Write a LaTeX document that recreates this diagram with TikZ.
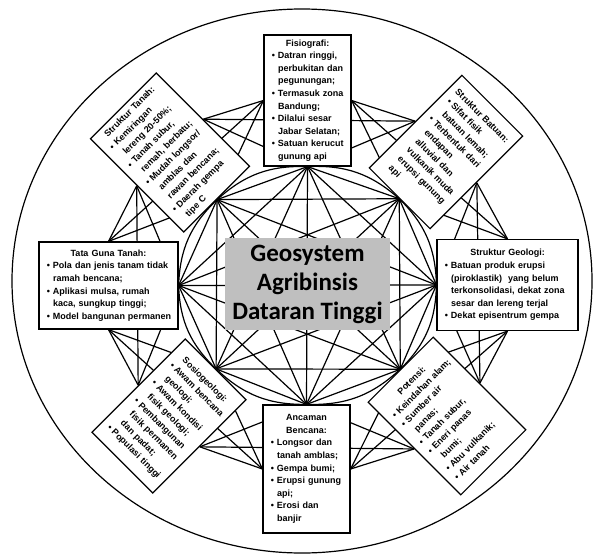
\documentclass[tikz,border=0pt]{standalone}
\usepackage{fontspec}
\setmainfont{Liberation Sans}
\newfontfamily\corefont{Carlito}
\usetikzlibrary{positioning}
\pgfdeclarelayer{bg}
\pgfsetlayers{bg,main}

\definecolor{coregray}{RGB}{191,191,191}
\newcommand{\hd}[1]{\makebox[\linewidth][c]{#1}}
\newcommand{\bu}{\makebox[9pt][c]{\textbullet}}
\newcommand{\ct}{\hspace*{9pt}}

\tikzset{
  infobox/.style={draw, line width=1.2pt, fill=white, inner xsep=5pt, inner ysep=2pt,
    font=\fontsize{9}{12.6}\selectfont\bfseries, align=left},
  corebox/.style={fill=coregray, minimum width=165pt, minimum height=92pt,
    font=\corefont\fontsize{25}{29}\selectfont\bfseries, align=center},
  link/.style={line width=1.2pt, line join=round},
}

\begin{document}
\begin{tikzpicture}[x=1pt, y=-1pt]
    \useasboundingbox (0,0) rectangle (593,554);

    \node[infobox, text width=77pt, minimum height=131pt] (fis) at (307.5,100.5)
      {\hd{Fisiografi:}\\ \bu Datran ringgi,\\ \ct perbukitan dan\\ \ct pegunungan;\\
       \bu Termasuk zona\\ \ct Bandung;\\ \bu Dilalui sesar\\ \ct Jabar Selatan;\\
       \bu Satuan kerucut\\ \ct gunung api};
    \node[infobox, text width=83pt, minimum height=132pt, rotate=45] (tanah) at (170,152.5)
      {\hd{Struktur Tanah:}\\ \bu Kemiringan\\ \ct lereng 20-50\%;\\ \bu Tanah subur,\\
       \ct remah, berbatu;\\ \bu Mudah longsor/\\ \ct amblas dan\\ \ct rawan bencana;\\
       \bu Daerah gempa\\ \ct tipe C};
    \node[infobox, text width=76pt, minimum height=131pt, rotate=-45] (batuan) at (446,152)
      {\hd{Struktur Batuan:}\\ \bu Sifat fisik\\ \ct batuan lemah;\\ \bu Terbentuk dari\\
       \ct endapan\\ \ct alluvial dan\\ \ct vulkanik muda\\ \ct erupsi gunung\\ \ct api};
    \node[infobox, text width=129pt, minimum height=87pt] (tata) at (108.5,285.5)
      {\hd{Tata Guna Tanah:}\\ \bu Pola dan jenis tanam tidak\\ \ct ramah bencana;\\
       \bu Aplikasi mulsa, rumah\\ \ct kaca, sungkup tinggi;\\ \bu Model bangunan permanen};
    \node[infobox, text width=131pt, minimum height=91pt] (geo) at (507.5,285)
      {\hd{Struktur Geologi:}\\ \bu Batuan produk erupsi\\ \ct (piroklastik)\ \ yang belum\\
       \ct terkonsolidasi, dekat zona\\ \ct sesar dan lereng terjal\\ \bu Dekat episentrum gempa};
    \node[infobox, text width=76pt, minimum height=132pt, rotate=-45] (sosio) at (169,416)
      {\hd{Sosiogeologi:}\\ \bu Awam bencana\\ \ct geologi;\\ \bu Awam kondisi\\
       \ct fisik geologi;\\ \bu Pembangunan\\ \ct fisik permanen\\ \ct dan padat;\\
       \bu Populasi tinggi};
    \node[infobox, text width=82pt, minimum height=131pt, rotate=45] (potensi) at (447,416)
      {\hd{Potensi:}\\ \bu Keindahan alam;\\ \bu Sumber air\\ \ct panas;\\ \bu Tanah subur,\\
       \bu Eneri panas\\ \ct bumi;\\ \bu Abu vulkanik;\\ \bu Air tanah};
    \node[infobox, text width=77pt, minimum height=128pt] (ancaman) at (306.5,469)
      {\hd{Ancaman}\\ \hd{Bencana:}\\ \bu Longsor dan\\ \ct tanah amblas;\\ \bu Gempa bumi;\\
       \bu Erupsi gunung\\ \ct api;\\ \bu Erosi dan\\ \ct banjir};
    \node[corebox] (core) at (307.5,284) {Geosystem\\Agribinsis\\Dataran Tinggi};

    % inner ring, clockwise from the top
    \coordinate (in1) at (fis.south);
    \coordinate (in2) at (batuan.south);
    \coordinate (in3) at (geo.west);
    \coordinate (in4) at (potensi.north);
    \coordinate (in5) at (ancaman.north);
    \coordinate (in6) at (sosio.north);
    \coordinate (in7) at (tata.east);
    \coordinate (in8) at (tanah.south);

    \begin{pgfonlayer}{bg}
      \draw[link] (302,281) ellipse [x radius=290pt, y radius=272pt];

      % star inside
      \foreach \i in {1,...,7}{
        \pgfmathtruncatemacro\j{\i+1}
        \foreach \k in {\j,...,8}
          \draw[link] (in\i) -- (in\k);
      }
      \foreach \i in {1,...,8}{
        \pgfmathtruncatemacro\j{mod(\i,8)+1}
        \draw[link] (in\i) to[bend left=22] (in\j);
      }

      % neighbours
      \draw[link] (fis.west) -- (tanah.east) (fis.west) -- (tanah.south) (tanah.east) -- (fis.south);
      \draw[link] (tanah.west) -- (tata.north) (tanah.west) -- (tata.east) (tata.north) -- (tanah.south);
      \draw[link] (tata.south) -- (sosio.west) (tata.south) -- (sosio.north) (sosio.west) -- (tata.east);
      \draw[link] (sosio.east) -- (ancaman.west) (sosio.east) -- (ancaman.north) (ancaman.west) -- (sosio.north);
      \draw[link] (ancaman.east) -- (potensi.west) (ancaman.east) -- (potensi.north) (potensi.west) -- (ancaman.north);
      \draw[link] (potensi.east) -- (geo.south) (potensi.east) -- (geo.west) (geo.south) -- (potensi.north);
      \draw[link] (geo.north) -- (batuan.east) (geo.north) -- (batuan.south) (batuan.east) -- (geo.west);
      \draw[link] (batuan.west) -- (fis.east) (batuan.west) -- (fis.south) (fis.east) -- (batuan.south);

      % across each box
      \draw[link] (tanah.east) -- (batuan.west);
      \draw[link] (fis.west) -- (tata.north);
      \draw[link] (tanah.west) -- (sosio.west);
      \draw[link] (tata.south) -- (ancaman.west);
      \draw[link] (sosio.east) -- (potensi.west);
      \draw[link] (ancaman.east) -- (geo.south);
      \draw[link] (potensi.east) -- (batuan.east);
      \draw[link] (geo.north) -- (fis.east);
    \end{pgfonlayer}
\end{tikzpicture}
\end{document}
